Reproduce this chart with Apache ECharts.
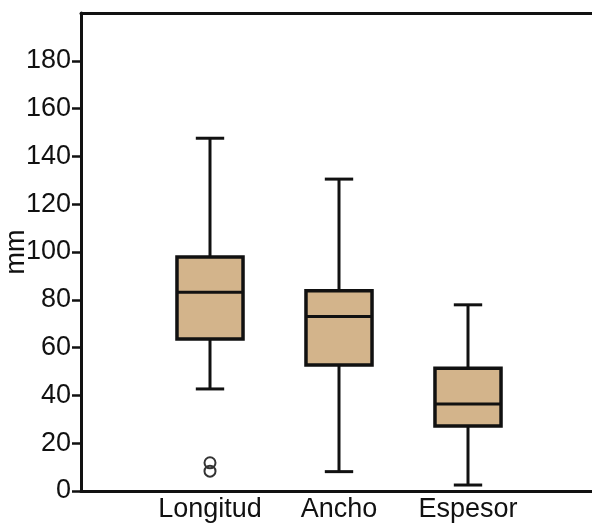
<!DOCTYPE html>
<html>
<head>
<meta charset="utf-8">
<script src="https://cdn.jsdelivr.net/npm/echarts@6/dist/echarts.min.js"></script>
<style>html,body{margin:0;padding:0;background:#fff}#c{width:592px;height:525px}</style>
</head>
<body>
<div id="c"></div>
<script>
var categories = ['Longitud', 'Ancho', 'Espesor'];
var whiskerLow = [42.7, 8.1, 2.5];
var q1 = [63.6, 52.7, 27.2];
var median = [83.2, 73.0, 36.4];
var q3 = [97.9, 83.8, 51.4];
var whiskerHigh = [147.6, 130.5, 77.9];
var outliers = [[1, 11.8], [1, 8.3]];
var yTicks = [0, 20, 40, 60, 80, 100, 120, 140, 160, 180];

var boxData = categories.map(function (c, i) {
  return [i + 1, whiskerLow[i], q1[i], median[i], q3[i], whiskerHigh[i]];
});

var ink = '#111';
var font = 'Liberation Sans, Arial, sans-serif';
var chart = echarts.init(document.getElementById('c'));
chart.setOption({
  animation: false,
  grid: { left: 81, top: 13, width: 516, height: 478, outerBoundsMode: 'none', containLabel: false },
  xAxis: [{
    type: 'value', min: 0, max: 4, interval: 1,
    axisLine: { show: true, lineStyle: { color: ink, width: 3 } },
    axisTick: { show: false },
    splitLine: { show: false },
    axisLabel: {
      color: ink, fontSize: 27, fontFamily: font, margin: 5,
      formatter: function (v) { return categories[v - 1] || ''; }
    }
  }, {
    type: 'value', min: 0, max: 4, position: 'top',
    axisLine: { show: true, lineStyle: { color: ink, width: 3 } },
    axisTick: { show: false }, axisLabel: { show: false }, splitLine: { show: false }
  }],
  yAxis: {
    type: 'value', min: 0, max: 200, interval: 20,
    name: 'mm', nameLocation: 'middle', nameRotate: 90, nameGap: 51, nameMoveOverlap: false,
    nameTextStyle: { color: ink, fontSize: 27, fontFamily: font },
    axisLine: { show: true, lineStyle: { color: ink, width: 3 } },
    axisTick: { show: true, length: 9, customValues: yTicks, lineStyle: { color: ink, width: 2.5 } },
    splitLine: { show: false },
    axisLabel: {
      color: ink, fontSize: 27, fontFamily: font, margin: 10, customValues: yTicks,
      formatter: function (v) { return yTicks.indexOf(v) >= 0 ? String(v) : ''; }
    }
  },
  series: [{
    type: 'custom',
    data: boxData,
    encode: { x: 0, y: [1, 2, 3, 4, 5] },
    renderItem: function (params, api) {
      var x = api.value(0);
      var bw = 0.256, cw = 0.11;
      var pLow = api.coord([x, api.value(1)]);
      var pQ1 = api.coord([x, api.value(2)]);
      var pMed = api.coord([x, api.value(3)]);
      var pQ3 = api.coord([x, api.value(4)]);
      var pHigh = api.coord([x, api.value(5)]);
      var xl = api.coord([x - bw, 0])[0], xr = api.coord([x + bw, 0])[0];
      var cl = api.coord([x - cw, 0])[0], cr = api.coord([x + cw, 0])[0];
      var cx = pQ1[0];
      var ls = { stroke: ink, lineWidth: 3 };
      return {
        type: 'group',
        children: [
          { type: 'line', shape: { x1: cx, y1: pQ3[1], x2: cx, y2: pHigh[1] }, style: ls },
          { type: 'line', shape: { x1: cx, y1: pQ1[1], x2: cx, y2: pLow[1] }, style: ls },
          { type: 'line', shape: { x1: cl, y1: pHigh[1], x2: cr, y2: pHigh[1] }, style: ls },
          { type: 'line', shape: { x1: cl, y1: pLow[1], x2: cr, y2: pLow[1] }, style: ls },
          { type: 'rect', shape: { x: xl, y: pQ3[1], width: xr - xl, height: pQ1[1] - pQ3[1] },
            style: { fill: '#D3B48B', stroke: ink, lineWidth: 3.5 } },
          { type: 'line', shape: { x1: xl, y1: pMed[1], x2: xr, y2: pMed[1] }, style: ls }
        ]
      };
    }
  }, {
    type: 'scatter',
    xAxisIndex: 0, yAxisIndex: 0,
    data: outliers,
    symbol: 'circle',
    symbolSize: 11,
    z: 10,
    itemStyle: { color: 'rgba(255,255,255,0)', borderColor: '#333', borderWidth: 2, opacity: 1 }
  }]
});
</script>
</body>
</html>
